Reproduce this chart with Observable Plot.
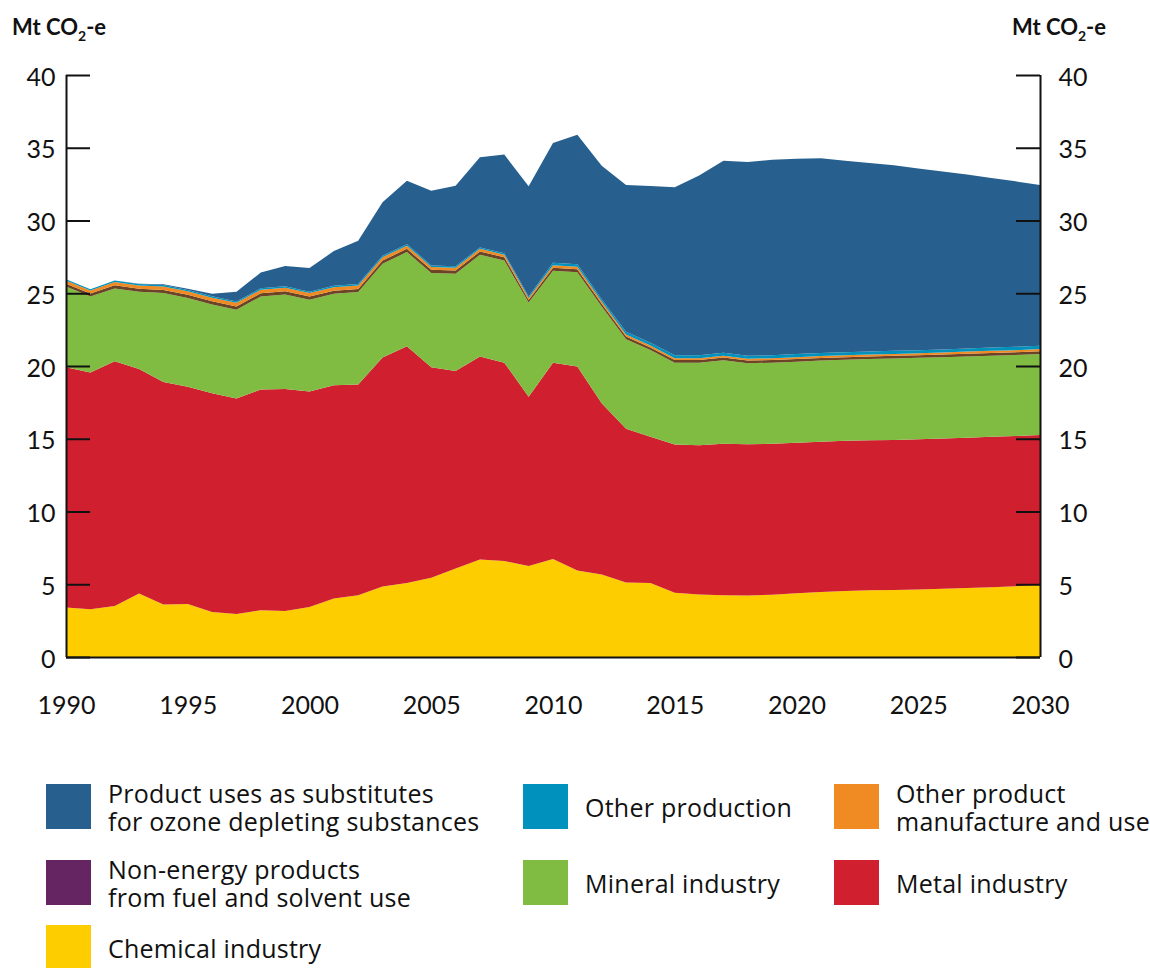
<!DOCTYPE html>
<html>
<head>
<meta charset="utf-8">
<script src="https://cdn.jsdelivr.net/npm/d3@7"></script>
<script src="https://cdn.jsdelivr.net/npm/@observablehq/plot@0.6"></script>
<style>
  body { margin: 0; background: #fff; font-family: Lato, "Open Sans", sans-serif; color: #111; }
  #wrap { position: relative; width: 1150px; height: 968px; overflow: hidden; }
  .item { position: absolute; display: flex; align-items: center; height: 45px; }
  .sw { width: 45px; height: 45px; flex: none; }
  .lab { margin-left: 17px; font-family: "Open Sans", Lato, sans-serif; font-size: 25px; letter-spacing: 0.25px; line-height: 28px; white-space: pre; color: #111; }
</style>
</head>
<body>
<div id="wrap"></div>
<script>
// ---- data (Mt CO2-e) ----
const years = [1990,1991,1992,1993,1994,1995,1996,1997,1998,1999,
               2000,2001,2002,2003,2004,2005,2006,2007,2008,2009,
               2010,2011,2012,2013,2014,2015,2016,2017,2018,2019,
               2020,2021,2022,2023,2024,2025,2026,2027,2028,2029,2030];

const chemical = [3.40,3.28,3.51,4.36,3.60,3.65,3.10,2.96,3.21,3.17,
                  3.44,4.02,4.25,4.85,5.09,5.44,6.08,6.70,6.59,6.26,
                  6.74,5.95,5.67,5.12,5.09,4.42,4.30,4.24,4.22,4.28,
                  4.38,4.46,4.54,4.58,4.61,4.64,4.69,4.74,4.79,4.86,4.98];

const metal = [16.52,16.27,16.82,15.44,15.30,14.93,15.03,14.80,15.17,15.25,
               14.80,14.66,14.47,15.73,16.27,14.48,13.58,13.95,13.64,11.63,
               13.49,14.01,11.77,10.57,10.05,10.18,10.25,10.42,10.40,10.38,
               10.35,10.34,10.32,10.31,10.31,10.32,10.33,10.33,10.34,10.33,10.28];

const mineral = [5.54,5.23,5.00,5.30,6.11,6.09,6.10,6.10,6.40,6.50,
                 6.31,6.28,6.36,6.45,6.47,6.47,6.68,7.00,7.02,6.47,
                 6.32,6.49,6.65,6.15,5.96,5.63,5.68,5.74,5.57,5.57,
                 5.57,5.57,5.57,5.59,5.60,5.60,5.59,5.59,5.58,5.57,5.56];

const nonEnergy = [0.20,0.20,0.22,0.21,0.22,0.22,0.22,0.23,0.22,0.22,
                   0.22,0.22,0.22,0.22,0.22,0.22,0.22,0.22,0.22,0.18,
                   0.20,0.20,0.19,0.19,0.18,0.18,0.18,0.18,0.18,0.18,
                   0.18,0.18,0.18,0.18,0.18,0.18,0.18,0.19,0.19,0.19,0.20];

const otherProduct = [0.22,0.21,0.23,0.22,0.23,0.24,0.24,0.25,0.24,0.24,
                      0.24,0.24,0.24,0.23,0.22,0.20,0.20,0.18,0.18,0.14,
                      0.18,0.17,0.15,0.14,0.13,0.13,0.13,0.13,0.13,0.13,
                      0.13,0.13,0.13,0.13,0.13,0.13,0.13,0.14,0.14,0.14,0.14];

const otherProduction = [0.09,0.09,0.10,0.10,0.10,0.10,0.10,0.10,0.10,0.10,
                         0.10,0.10,0.10,0.10,0.10,0.10,0.10,0.10,0.10,0.10,
                         0.16,0.18,0.15,0.18,0.18,0.20,0.20,0.20,0.20,0.20,
                         0.21,0.21,0.21,0.21,0.22,0.22,0.22,0.22,0.23,0.23,0.23];

const ods = [0,0,0,0.02,0.05,0.08,0.17,0.66,1.08,1.40,
             1.62,2.38,2.97,3.67,4.37,5.14,5.53,6.19,6.78,7.57,
             8.24,8.90,9.18,10.09,10.78,11.55,12.36,13.20,13.32,13.44,
             13.43,13.38,13.16,12.95,12.74,12.49,12.22,11.96,11.65,11.37,11.05];

// stacking order, bottom to top
const seriesNames = ["Chemical industry","Metal industry","Mineral industry",
  "Non-energy products from fuel and solvent use","Other product manufacture and use",
  "Other production","Product uses as substitutes for ozone depleting substances"];
const seriesValues = [chemical, metal, mineral, nonEnergy, otherProduct, otherProduction, ods];
const areaColors = ["#fdcd00","#d02030","#80bc42","#6b4426","#f08a22","#0092bc","#27608f"];

const yTicks = [0,5,10,15,20,25,30,35,40];
const xTicks = [1990,1995,2000,2005,2010,2015,2020,2025,2030];

// legend (row-major, as shown)
const legendLabels = ["Product uses as substitutes\nfor ozone depleting substances","Other production","Other product\nmanufacture and use",
  "Non-energy products\nfrom fuel and solvent use","Mineral industry","Metal industry","Chemical industry"];
const legendColors = ["#27608f","#0092bc","#f08a22","#652462","#80bc42","#d02030","#fdcd00"];

// ---- build ----
const rows = [];
seriesNames.forEach((name, i) => years.forEach((yr, j) => rows.push({year: yr, layer: name, value: seriesValues[i][j]})));

const W = 1150, H = 745, ML = 66, MR = 110, MT = 75, MB = 88;
const frameW = W - ML - MR;
const tickLen = 24;

const chart = Plot.plot({
  width: W, height: H,
  marginLeft: ML, marginRight: MR, marginTop: MT, marginBottom: MB,
  style: {fontFamily: "Lato, 'Open Sans', sans-serif", fontSize: "25px", color: "#111", background: "#fff"},
  x: {domain: [1990, 2030], label: null},
  y: {domain: [0, 40], label: null},
  color: {domain: seriesNames, range: areaColors},
  marks: [
    Plot.areaY(rows, {x: "year", y: "value", z: "layer", fill: "layer"}),
    Plot.ruleX([1990, 2030], {stroke: "#111", strokeWidth: 2}),
    Plot.ruleY([0], {stroke: "#111", strokeWidth: 2}),
    Plot.tickY(yTicks, {y: d => d, insetRight: frameW - tickLen, stroke: "#111", strokeWidth: 2}),
    Plot.tickY(yTicks, {y: d => d, insetLeft: frameW - tickLen, stroke: "#111", strokeWidth: 2}),
    Plot.axisY({anchor: "left", ticks: yTicks, tickSize: 0, tickPadding: 11, dy: 2, label: null}),
    Plot.axisY({anchor: "right", ticks: yTicks, tickSize: 0, tickPadding: 18, dy: 2, label: null}),
    Plot.axisX({anchor: "bottom", ticks: xTicks, tickSize: 0, tickPadding: 39, tickFormat: d => String(d), label: null})
  ]
});

const wrap = document.getElementById("wrap");
wrap.appendChild(chart);

// unit labels
const svg = d3.select(chart);
function unit(x, anchor) {
  const t = svg.append("text").attr("x", x).attr("y", 35).attr("text-anchor", anchor)
    .attr("font-weight", "bold").attr("font-size", 22).attr("fill", "#111");
  t.append("tspan").text("Mt CO");
  t.append("tspan").attr("font-size", 14).attr("dy", 6).text("2");
  t.append("tspan").attr("dy", -6).text("-e");
}
unit(12, "start");
unit(1106, "end");

// legend
const colX = [46, 523, 834];
const rowY = [784, 860, 925];
legendLabels.forEach((lab, i) => {
  const item = document.createElement("div");
  item.className = "item";
  item.style.left = colX[i % 3] + "px";
  item.style.top = rowY[Math.floor(i / 3)] + "px";
  const sw = document.createElement("div");
  sw.className = "sw";
  sw.style.background = legendColors[i];
  const tx = document.createElement("div");
  tx.className = "lab";
  tx.textContent = lab;
  item.appendChild(sw);
  item.appendChild(tx);
  wrap.appendChild(item);
});
</script>
</body>
</html>
